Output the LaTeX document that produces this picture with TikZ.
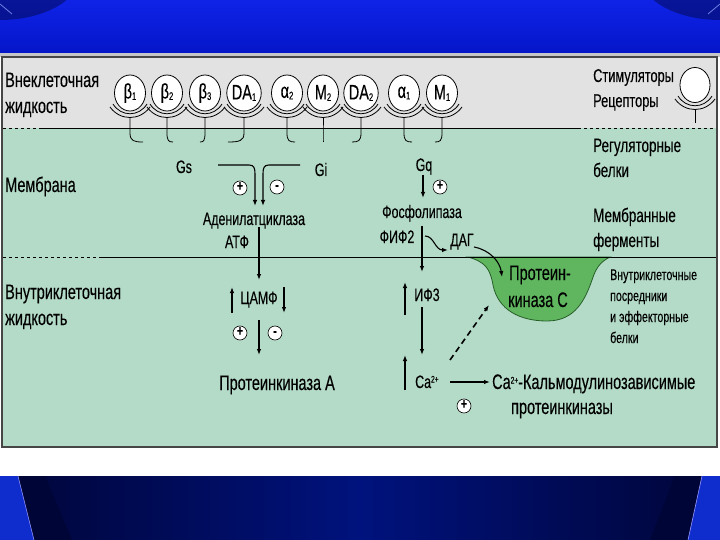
\documentclass[tikz,border=0pt]{standalone}
\usepackage{fontspec}
\setmainfont{Liberation Sans}[FakeStretch=0.69,FakeBold=0.25]
\usetikzlibrary{arrows.meta,shapes.geometric}
\definecolor{bandtop}{RGB}{15,35,232}
\definecolor{bandbot}{RGB}{5,22,200}
\definecolor{navyA}{RGB}{0,18,125}
\definecolor{navyD}{RGB}{0,5,55}
\definecolor{navyL}{RGB}{15,45,205}
\definecolor{extra}{RGB}{226,226,226}
\definecolor{mint}{RGB}{180,219,200}
\definecolor{pkc}{RGB}{95,182,95}
\definecolor{pkcline}{RGB}{40,95,40}
\definecolor{frame}{RGB}{70,70,70}
\tikzset{
  lab/.style={anchor=base west, inner sep=0pt, font=\fontsize{21}{21}\selectfont},
  labc/.style={anchor=base, inner sep=0pt, font=\fontsize{21}{21}\selectfont},
  med/.style={anchor=base, inner sep=0pt, font=\fontsize{18}{18}\selectfont},
  sml/.style={anchor=base west, inner sep=0pt, font=\fontsize{15.4}{15.4}\selectfont},
  pm/.style={circle, draw=black, fill=white, inner sep=0pt, minimum size=14pt, line width=0.6pt, font=\fontsize{15}{15}\selectfont\bfseries, text height=0.58em, text depth=0pt},
  recep/.style={ellipse, draw=black, fill=white, line width=0.8pt, inner sep=0pt, minimum width=31pt, minimum height=36pt, font=\fontsize{21}{21}\selectfont},
  arr/.style={-{Latex[length=6pt,width=4.5pt]}, line width=1.1pt},
  thin/.style={line width=0.8pt},
}
\newcommand\rsub[1]{\raisebox{-1.5pt}{\fontsize{11}{11}\selectfont #1}}
\newcommand\caup{Ca\raisebox{5.5pt}{\fontsize{9.5}{9.5}\selectfont 2+}}
\begin{document}
\begin{tikzpicture}[x=1pt,y=-1pt]
\useasboundingbox (0,0) rectangle (720,540);
% backgrounds
\fill[white] (0,0) rectangle (720,540);
\shade[top color=bandtop, bottom color=bandbot] (0,0) rectangle (720,53);
\begin{scope}
  \clip (0,0) rectangle (720,53);
  \fill[navyD, opacity=0.45] (0,-25) ellipse (80 and 45);
  \fill[navyD, opacity=0.45] (720,-25) ellipse (80 and 45);
  \draw[navyL!60!white, line width=0.8pt] (0,4) -- (12,14);
  \draw[navyL!60!white, line width=0.8pt] (720,4) -- (708,14);
\end{scope}
\fill[gray!45] (0,53) rectangle (720,57);
\shade[left color=navyD, right color=navyD, middle color=navyA] (0,476) rectangle (720,540);
\fill[navyD] (18,476) -- (45,476) -- (72,540) -- (34,540) -- cycle;
\fill[navyL] (0,476) -- (18,476) -- (34,540) -- (0,540) -- cycle;
\draw[blue!40!white, line width=0.6pt] (18,476) -- (34,540);
\fill[navyD] (702,476) -- (675,476) -- (650,540) -- (688,540) -- cycle;
\fill[navyL] (720,476) -- (702,476) -- (688,540) -- (720,540) -- cycle;
\draw[blue!40!white, line width=0.6pt] (702,476) -- (688,540);
% panel
\fill[extra] (2,57) rectangle (717,128);
\fill[mint] (2,128) rectangle (717,447);
\draw[black, line width=0.8pt, dashed] (3,128) -- (40,128);
\draw[black, line width=0.8pt] (40,128) -- (578,128);
\draw[black, line width=0.8pt, dashed] (578,128) -- (716,128);
\draw[black, line width=0.8pt, dashed] (3,257) -- (100,257);
\draw[black, line width=0.8pt] (100,257) -- (716,257);
\draw[frame, line width=0.8pt] (716,128) -- (716,257);
\draw[frame, line width=2pt] (2,57) rectangle (717,447);
% receptors
\foreach \x/\n/\g/\s/\d in {130/b1/β/1/13, 167/b2/β/2/6, 205/b3/β/3/-5, 244/da1/DA/1/-16, 287/a2/α/2/8, 323/m2/M/2/0, 361/da2/DA/2/-9, 404/a1/α/1/8, 442/m1/M/1/-7}{
  \node[recep] (\n) at (\x,93) {\g\rsub{\s}};
  \draw[thin] (\x-20,107) .. controls (\x-10,121) and (\x+10,121) .. (\x+20,107);
  \draw[thin] (\x-17,104) .. controls (\x-9,117) and (\x+9,117) .. (\x+17,104);
  \draw[thin] (\x,117.5) -- (\x,133) .. controls (\x,141) and ({\x+0.3*\d},142) .. ({\x+\d},142);
}
\node[recep, minimum width=30pt, minimum height=35pt] (legrec) at (695,85) {};
\draw[thin] (675,99) .. controls (685,113) and (705,113) .. (715,99);
\draw[thin] (678,96) .. controls (686,109) and (704,109) .. (712,96);
\draw[thin] (695,109.5) -- (695,123);
% side labels
\node[lab] (ext1) at (5,87) {Внеклеточная};
\node[lab] (ext2) at (5,113) {жидкость};
\node[lab, font=\fontsize{18.5}{18.5}\selectfont] (stim) at (593,82) {Стимуляторы};
\node[lab, font=\fontsize{18.5}{18.5}\selectfont] (rec) at (593,107) {Рецепторы};
\node[lab, font=\fontsize{19.5}{19.5}\selectfont] (reg1) at (593,152) {Регуляторные};
\node[lab, font=\fontsize{19.5}{19.5}\selectfont] (reg2) at (593,177) {белки};
\node[lab] (mem) at (5,192) {Мембрана};
\node[lab, font=\fontsize{19.5}{19.5}\selectfont] (enz1) at (593,222) {Мембранные};
\node[lab, font=\fontsize{19.5}{19.5}\selectfont] (enz2) at (593,247) {ферменты};
\node[lab] (int1) at (5,299) {Внутриклеточная};
\node[lab] (int2) at (5,325) {жидкость};
\node[sml] (sm1) at (610,280) {Внутриклеточные};
\node[sml] (sm2) at (610,301) {посредники};
\node[sml] (sm3) at (610,322) {и эффекторные};
\node[sml] (sm4) at (610,343) {белки};
% cAMP pathway
\node[med] (gs) at (184,173) {Gs};
\node[med] (gi) at (321,176) {Gi};
\coordinate (gsS) at (218,165);
\coordinate (gsE) at (255,206);
\coordinate (giS) at (300,165);
\coordinate (giE) at (263,206);
\draw[arr] (gsS) -- (249,165) .. controls (254,165) and (255,168) .. (255,174) -- (gsE);
\draw[arr] (giS) -- (269,165) .. controls (264,165) and (263,168) .. (263,174) -- (giE);
\node[pm] (p1) at (240,188) {+};
\node[pm] (m1s) at (277,187) {-};
\node[med] (ac) at (254,225) {Аденилатциклаза};
\node[med] (atp) at (237,248) {АТФ};
\coordinate (acL) at (259,227);
\coordinate (campT) at (259,280);
\draw[arr] (acL) -- (campT);
\node[med] (camp) at (259,304) {ЦАМФ};
\coordinate (cu1) at (232,313); \coordinate (cu2) at (232,287);
\coordinate (cd1) at (284,287); \coordinate (cd2) at (284,313);
\draw[arr] (cu1) -- (cu2);
\draw[arr] (cd1) -- (cd2);
\node[pm] (p2) at (240,333) {+};
\node[pm] (m2s) at (275,333) {-};
\coordinate (pkaS) at (259,320); \coordinate (pkaE) at (259,355);
\draw[arr] (pkaS) -- (pkaE);
\node[labc] (pka) at (277,390) {Протеинкиназа А};
% PLC pathway
\node[med] (gq) at (424,171) {Gq};
\coordinate (gqS) at (423,175); \coordinate (gqE) at (423,198);
\draw[arr] (gqS) -- (gqE);
\node[pm] (p3) at (440,187) {+};
\node[med] (plc) at (422,218) {Фосфолипаза};
\node[med] (pip) at (397,243) {ФИФ2};
\node[med] (dag) at (462,246) {ДАГ};
\coordinate (ipS) at (422,226); \coordinate (ipE) at (422,272);
\draw[arr] (ipS) -- (ipE);
\coordinate (pd1) at (425,236); \coordinate (pd2) at (448,250);
\draw[arr] (pd1) .. controls (434,236) and (435,250) .. (pd2);
% PKC
\fill[pkc, draw=pkcline, line width=0.8pt] (468,257) .. controls (485,262) and (490,268) .. (493,285) .. controls (498,310) and (520,321) .. (547,321) .. controls (575,321) and (585,300) .. (592,280) .. controls (596,268) and (600,262) .. (610,257) -- cycle;
\draw[black, line width=0.8pt] (468,257) -- (610,257);
\coordinate (dg1) at (474,247); \coordinate (dg2) at (502,277);
\draw[arr] (dg1) .. controls (490,250) and (500,262) .. (dg2);
\node[labc] (pkc1) at (540,280) {Протеин-};
\node[labc] (pkc2) at (538,307) {киназа С};
\node[med] (ip3) at (427,301) {ИФ3};
\coordinate (iu1) at (405,315); \coordinate (iu2) at (405,282);
\draw[arr] (iu1) -- (iu2);
\coordinate (id1) at (422,307); \coordinate (id2) at (422,355);
\draw[arr] (id1) -- (id2);
\coordinate (cau1) at (405,390); \coordinate (cau2) at (405,355);
\draw[arr] (cau1) -- (cau2);
\node[med, anchor=base west] (ca) at (415,388) {\caup};
\coordinate (dsS) at (450,360); \coordinate (dsE) at (489,305);
\draw[arr, line width=1.6pt, dash pattern=on 6pt off 4pt] (dsS) -- (dsE);
\coordinate (ckS) at (450,382); \coordinate (ckE) at (490,382);
\draw[arr, line width=2pt] (ckS) -- (ckE);
\node[lab] (cam1) at (492,389) {\caup-Кальмодулинозависимые};
\node[labc] (cam2) at (562,414) {протеинкиназы};
\node[pm] (p4) at (464,406) {+};
\end{tikzpicture}
\end{document}
